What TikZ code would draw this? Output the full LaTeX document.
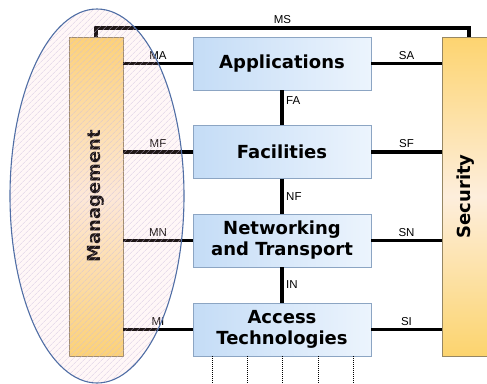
\documentclass[tikz,border=0pt]{standalone}
\usepackage{fontspec}
\setmainfont{Liberation Sans}
\newfontfamily\layerfont{DejaVu Sans}
\usepackage{tikz}
\usetikzlibrary{patterns.meta}

\definecolor{layerL}{RGB}{196,220,246}
\definecolor{layerR}{RGB}{236,244,253}
\definecolor{layerrim}{RGB}{140,165,195}
\definecolor{sideT}{RGB}{253,212,112}
\definecolor{sideM}{RGB}{253,238,220}
\definecolor{sideB}{RGB}{252,212,110}
\definecolor{siderim}{RGB}{150,135,100}
\definecolor{ovalrim}{RGB}{80,110,165}
\definecolor{hatch}{RGB}{205,190,220}

\begin{document}
\begin{tikzpicture}[x=1pt, y=-1pt,
    layer/.style={draw=layerrim, left color=layerL, right color=layerR,
        minimum width=178pt, minimum height=53pt, inner sep=0pt, align=center,
        font=\layerfont\bfseries\fontsize{18}{21}\selectfont},
    side/.style={draw=siderim, top color=sideT, bottom color=sideB, middle color=sideM,
        minimum height=319pt, inner sep=0pt},
    sidetext/.style={rotate=90, font=\layerfont\bfseries\fontsize{18}{21}\selectfont},
    link/.style={line width=3.4pt},
    lbl/.style={font=\fontsize{11.5}{13}\selectfont, inner sep=2.5pt}]
    \useasboundingbox (0,0) rectangle (487,383);

    % the four layers
    \node[layer] (apps) at (282, 63.5) {Applications};
    \node[layer] (fac) at (282, 152) {Facilities};
    \node[layer] (net) at (282, 240.5) {Networking\\and Transport};
    \node[layer] (acc) at (282, 329.5) {Access\\Technologies};

    % side planes
    \node[side, minimum width=54pt] (mgmt) at (96, 196.5) {};
    \node[sidetext] (mgmtlbl) at (mgmt.center) {Management};
    \node[side, minimum width=46pt] (sec) at (465, 196.5) {};
    \node[sidetext] (seclbl) at ([xshift=1pt]sec.center) {Security};

    % vertical interfaces
    \draw[link] (apps.south) -- node[right, lbl, pos=0.3] {FA} (fac.north);
    \draw[link] (fac.south) -- node[right, lbl] {NF} (net.north);
    \draw[link] (net.south) -- node[right, lbl] {IN} (acc.north);

    % management interfaces
    \draw[link] (mgmt.east |- apps.west) -- node[above, lbl] {MA} (apps.west);
    \draw[link] (mgmt.east |- fac.west) -- node[above, lbl] {MF} (fac.west);
    \draw[link] (mgmt.east |- net.west) -- node[above, lbl] {MN} (net.west);
    \draw[link] (mgmt.east |- acc.west) -- node[above, lbl] {MI} (acc.west);

    % security interfaces
    \draw[link] (apps.east) -- node[above, lbl] {SA} (apps.east -| sec.west);
    \draw[link] (fac.east) -- node[above, lbl] {SF} (fac.east -| sec.west);
    \draw[link] (net.east) -- node[above, lbl] {SN} (net.east -| sec.west);
    \draw[link] (acc.east) -- node[above, lbl] {SI} (acc.east -| sec.west);

    % management to security
    \coordinate (msl) at (96, 28);
    \coordinate (msr) at (469, 28);
    \draw[link] (mgmt.north) -- (msl) -- node[above, lbl] {MS} (msr) -- (msr |- sec.north);

    % lower access lines
    \foreach \dx in {-70, -35, 0, 36, 71}
        \draw[densely dotted, line width=1pt] ([xshift=\dx]acc.south) -- ++(0, 30);

    % management oval
    \fill[pink, opacity=0.12] (97, 196) ellipse [x radius=87, y radius=187];
    \fill[pattern={Lines[angle=45, distance=4pt, line width=0.5pt]}, pattern color=hatch, opacity=0.7]
        (97, 196) ellipse [x radius=87, y radius=187];
    \draw[ovalrim, line width=1.1pt] (97, 196) ellipse [x radius=87, y radius=187];
\end{tikzpicture}
\end{document}
